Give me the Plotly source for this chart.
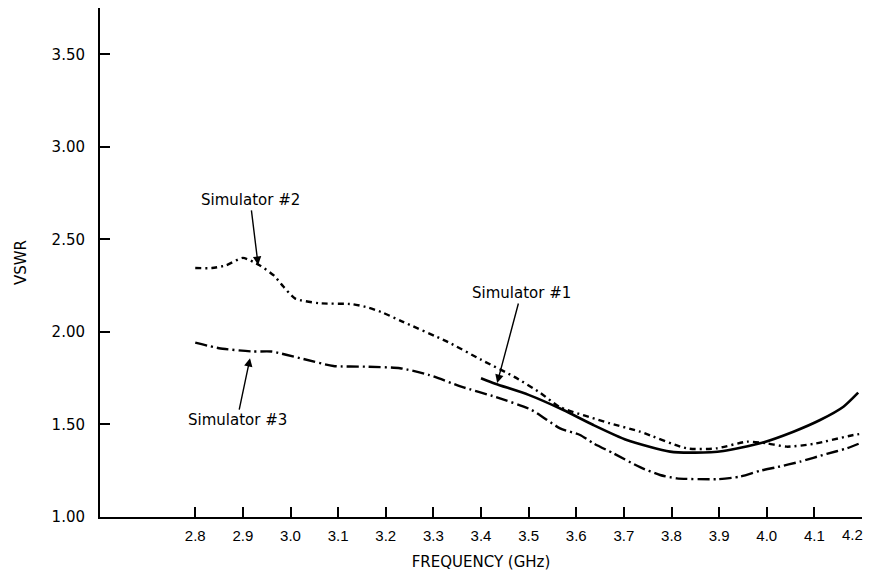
import plotly.graph_objects as go

# ---- data ----
freq_sim1 = [3.40, 3.43, 3.50, 3.573, 3.636, 3.706, 3.797, 3.85, 3.909, 3.986, 4.056, 4.112, 4.161, 4.192]
vswr_sim1 = [1.75, 1.72, 1.66, 1.578, 1.497, 1.416, 1.353, 1.348, 1.357, 1.398, 1.461, 1.524, 1.596, 1.672]

freq_sim2 = [2.80, 2.835, 2.865, 2.90, 2.935, 2.965, 2.985, 3.01, 3.06, 3.13, 3.165, 3.19, 3.235,
             3.33, 3.40, 3.47, 3.525, 3.565, 3.671, 3.734, 3.832, 3.895, 3.958, 4.00, 4.042, 4.098, 4.182, 4.20]
vswr_sim2 = [2.345, 2.345, 2.36, 2.40, 2.36, 2.305, 2.245, 2.18, 2.155, 2.15, 2.13, 2.108, 2.056,
             1.946, 1.85, 1.757, 1.67, 1.595, 1.506, 1.461, 1.371, 1.371, 1.407, 1.398, 1.380, 1.395, 1.443, 1.45]

freq_sim3 = [2.80, 2.85, 2.92, 2.96, 3.02, 3.09, 3.16, 3.23, 3.29, 3.36, 3.43, 3.505, 3.566, 3.608,
             3.636, 3.678, 3.734, 3.776, 3.811, 3.895, 3.944, 3.986, 4.021, 4.070, 4.126, 4.168, 4.199]
vswr_sim3 = [1.942, 1.912, 1.894, 1.894, 1.858, 1.816, 1.812, 1.804, 1.768, 1.703, 1.649, 1.58, 1.479, 1.443,
             1.398, 1.344, 1.269, 1.227, 1.209, 1.204, 1.218, 1.250, 1.269, 1.299, 1.341, 1.371, 1.402]

x_ticks = [2.8, 2.9, 3.0, 3.1, 3.2, 3.3, 3.4, 3.5, 3.6, 3.7, 3.8, 3.9, 4.0, 4.1, 4.2]
x_tick_labels = ["2.8", "2.9", "3.0", "3.1", "3.2", "3.3", "3.4", "3.5", "3.6", "3.7", "3.8", "3.9", "4.0", "4.1", "4.2"]
y_ticks = [1.0, 1.5, 2.0, 2.5, 3.0, 3.5]
y_tick_labels = ["1.00", "1.50", "2.00", "2.50", "3.00", "3.50"]

FONT = "DejaVu Sans"
TICK_FONT = "Liberation Sans"

fig = go.Figure()
fig.add_trace(go.Scatter(x=freq_sim2, y=vswr_sim2, mode="lines", name="Simulator #2",
                         line=dict(color="black", width=2.4, dash="6px,4px,2px,4px", shape="spline", smoothing=0.6)))
fig.add_trace(go.Scatter(x=freq_sim3, y=vswr_sim3, mode="lines", name="Simulator #3",
                         line=dict(color="black", width=2.4, dash="12px,4px,2px,4px", shape="spline", smoothing=0.6)))
fig.add_trace(go.Scatter(x=freq_sim1, y=vswr_sim1, mode="lines", name="Simulator #1",
                         line=dict(color="black", width=2.6, shape="spline", smoothing=0.6)))

ann = dict(showarrow=True, arrowhead=2, arrowsize=1.2, arrowwidth=1.4, arrowcolor="black",
           font=dict(family=FONT, size=15, color="black"), standoff=0, xref="x", yref="y")
fig.add_annotation(x=2.932, y=2.362, text="Simulator #2", ax=-8, ay=-65, **ann)
fig.add_annotation(x=3.434, y=1.724, text="Simulator #1", ax=24, ay=-90, **ann)
fig.add_annotation(x=2.915, y=1.858, text="Simulator #3", ax=-13, ay=62, **ann)

# the last tick label sits at the very edge of the window: draw it right-aligned so it stays visible
shown_tick_labels = x_tick_labels[:-1] + [""]
fig.add_annotation(x=x_ticks[-1], y=0, xref="x", yref="paper", text=x_tick_labels[-1],
                   showarrow=False, xanchor="right", yanchor="middle", xshift=3, yshift=-17,
                   font=dict(family=TICK_FONT, size=15, color="black"))

# the page body adds an 8px offset; keep the page from overflowing the window vertically
fig.update_layout(
    width=866, height=563,
    margin=dict(l=92, r=12, t=0, b=54),
    paper_bgcolor="white", plot_bgcolor="white",
    showlegend=False,
    font=dict(family=FONT, size=15, color="black"),
    xaxis=dict(range=[2.6, 4.2], tickvals=x_ticks, ticktext=shown_tick_labels,
               ticks="inside", ticklen=10, tickwidth=1.6, tickcolor="black",
               showline=True, linecolor="black", linewidth=2, showgrid=False, zeroline=False,
               ticklabelstandoff=4, ticklabeloverflow="allow",
               tickfont=dict(family=TICK_FONT, size=15),
               title=dict(text="FREQUENCY (GHz)", standoff=16, font=dict(family=FONT, size=15))),
    yaxis=dict(range=[1.0, 3.75], tickvals=y_ticks, ticktext=y_tick_labels,
               ticks="inside", ticklen=10, tickwidth=1.6, tickcolor="black",
               showline=True, linecolor="black", linewidth=2, showgrid=False, zeroline=False,
               ticklabelstandoff=10,
               title=dict(text="VSWR", standoff=21, font=dict(family=FONT, size=15))),
)

fig.write_html("out.html")
